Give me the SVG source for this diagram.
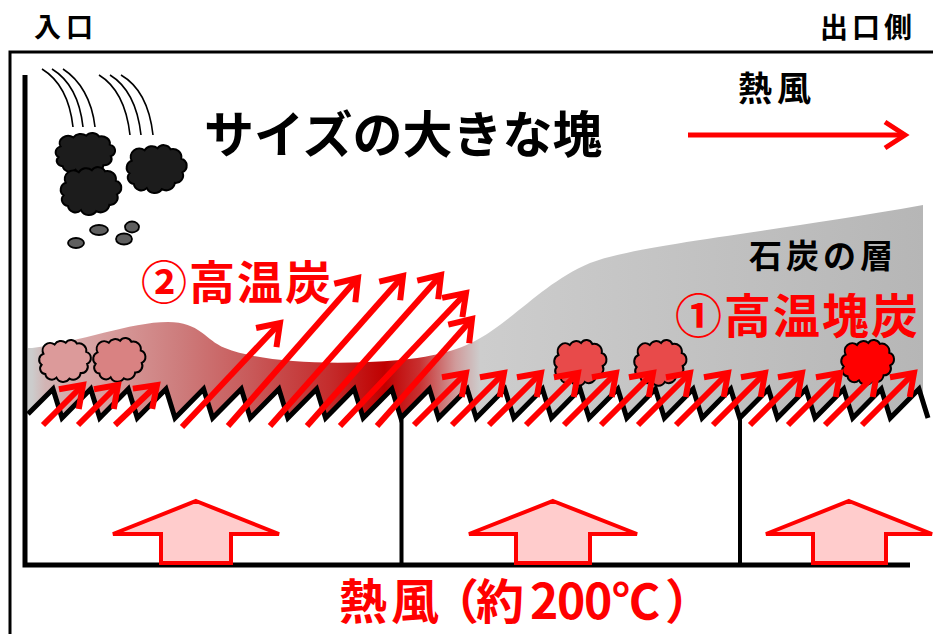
<svg xmlns="http://www.w3.org/2000/svg" width="933" height="634" viewBox="0 0 933 634">
  <defs>
    <style>
      .t{font-family:'Noto Sans CJK JP','Noto Sans CJK SC',sans-serif;font-weight:700}
      .blk{fill:#000}
      .red{fill:#ff0000}
      .air line{stroke:#ff0000;stroke-width:6;fill:none;marker-end:url(#chev)}
      .rise{fill:#ffcccc;stroke:#ff0000;stroke-width:4;stroke-linejoin:miter}
      .fall{fill:none;stroke:#000;stroke-width:1.6}
      .pebble{fill:#5f5f5f;stroke:#000;stroke-width:1.8}
    </style>
    <!-- open chevron head for the air-flow arrows -->
    <marker id="chev" markerUnits="userSpaceOnUse" markerWidth="40" markerHeight="40" viewBox="-30 -20 40 40" refX="0" refY="0" orient="auto" overflow="visible">
      <path d="M-20,-14 L0,0 L-20,14" fill="none" stroke="#ff0000" stroke-width="6" stroke-linejoin="miter"/>
    </marker>
    <!-- lump outline, roughly 60 x 47 -->
    <path id="lump" stroke="#000" stroke-width="2" vector-effect="non-scaling-stroke"
      d="M6,28 A7,7 0 0 1 8,16 A8,8 0 0 1 20,6 A8,8 0 0 1 32,4 A7,7 0 0 1 44,5 A8,8 0 0 1 54,14 A7,7 0 0 1 55,27 A7,7 0 0 1 48,37 A8,8 0 0 1 36,43 A8,8 0 0 1 22,42 A7,7 0 0 1 10,38 A6,6 0 0 1 6,28 Z"/>
    <linearGradient id="bed" gradientUnits="userSpaceOnUse" x1="32" y1="0" x2="925" y2="0">
      <stop offset="0" stop-color="#cccccc"/>
      <stop offset="0.015" stop-color="#d2b4b4"/>
      <stop offset="0.076" stop-color="#d8a0a0"/>
      <stop offset="0.166" stop-color="#cd7c7c"/>
      <stop offset="0.244" stop-color="#c85a5a"/>
      <stop offset="0.334" stop-color="#c42c2c"/>
      <stop offset="0.395" stop-color="#c00000"/>
      <stop offset="0.434" stop-color="#c83030"/>
      <stop offset="0.474" stop-color="#d09a9a"/>
      <stop offset="0.502" stop-color="#cdcdcd"/>
      <stop offset="1" stop-color="#b6b6b6"/>
    </linearGradient>
  </defs>

  <rect width="933" height="634" fill="#fff"/>

  <!-- outer casing -->
  <g id="casing" fill="none" stroke="#000">
    <path d="M10,634 L10,52 L933,52" stroke-width="3"/>
    <path d="M25,75 L25,565 L910,565" stroke-width="5"/>
    <path d="M401.5,416 L401.5,565 M740,416 L740,565" stroke-width="4"/>
  </g>

  <!-- coal bed -->
  <g id="coal-bed">
    <path fill="url(#bed)" d="M28,348 L32,348 C80,342 130,322 168,322 C200,322 205,340 225,348 C260,362 330,366 400,360 C450,355 470,345 490,332 C525,308 550,280 590,263 C640,244 760,234 923,205 L923,401 L919,389 L890.3,418 L881.3,389 L852.7,418 L843.7,389 L815,418 L806,389 L777.4,418 L768.4,389 L739.7,418 L730.7,389 L702.1,418 L693.1,389 L664.4,418 L655.4,389 L626.8,418 L617.8,389 L589.1,418 L580.1,389 L551.5,418 L542.5,389 L513.8,418 L504.8,389 L476.2,418 L467.2,389 L438.5,418 L429.5,389 L400.9,418 L391.9,389 L363.2,418 L354.2,389 L325.6,418 L316.6,389 L287.9,418 L278.9,389 L250.3,418 L241.3,389 L212.6,418 L203.6,389 L175,418 L166,389 L137.3,418 L128.3,389 L99.7,418 L90.7,389 L62,418 L53,389 L28,414 Z"/>
  </g>

  <!-- grate -->
  <g id="grate">
    <path fill="none" stroke="#000" stroke-width="5" stroke-linejoin="miter" d="M28,414 L53,389 L62,418 L90.7,389 L99.7,418 L128.3,389 L137.3,418 L166,389 L175,418 L203.6,389 L212.6,418 L241.3,389 L250.3,418 L278.9,389 L287.9,418 L316.6,389 L325.6,418 L354.2,389 L363.2,418 L391.9,389 L400.9,418 L429.5,389 L438.5,418 L467.2,389 L476.2,418 L504.8,389 L513.8,418 L542.5,389 L551.5,418 L580.1,389 L589.1,418 L617.8,389 L626.8,418 L655.4,389 L664.4,418 L693.1,389 L702.1,418 L730.7,389 L739.7,418 L768.4,389 L777.4,418 L806,389 L815,418 L843.7,389 L852.7,418 L881.3,389 L890.3,418 L919,389 L928,418"/>
  </g>

  <!-- falling lumps -->
  <g id="falling-lumps">
    <path class="fall" d="M42,69 C60,80 70,100 73,127 M52,69 C70,80 80,100 83,127 M63,69 C80,80 92,100 95,127"/>
    <path class="fall" d="M99,75 C117,86 127,108 130,135 M110,75 C128,86 138,108 141,135 M121,75 C140,86 150,108 153,135"/>
    <use href="#lump" fill="#1c1c1c" transform="translate(52,132) scale(1.07,0.9)"/>
    <use href="#lump" fill="#1c1c1c" transform="translate(123,144) scale(1.08,1.05)"/>
    <use href="#lump" fill="#1c1c1c" transform="translate(57,166) scale(1.09,1.05)"/>
    <ellipse class="pebble" cx="76" cy="243" rx="8" ry="5"/>
    <ellipse class="pebble" cx="99" cy="230" rx="9" ry="5"/>
    <ellipse class="pebble" cx="124" cy="239" rx="8" ry="5.5"/>
    <ellipse class="pebble" cx="132" cy="227" rx="7" ry="5.5"/>
  </g>

  <!-- lumps on the bed -->
  <g id="bed-lumps">
    <use href="#lump" fill="#dc9a9a" transform="translate(36,339) scale(0.93,0.92)"/>
    <use href="#lump" fill="#d98282" transform="translate(90,337) scale(0.94,0.96)"/>
    <use href="#lump" fill="#e84a4a" transform="translate(551,339) scale(0.94,1)"/>
    <use href="#lump" fill="#e84a4a" transform="translate(631,339) scale(0.94,1)"/>
    <use href="#lump" fill="#ff0000" transform="translate(838,339) scale(0.95,0.98)"/>
  </g>

  <!-- hot air through the grate -->
  <g id="connectors" class="air">
    <line x1="43" y1="425" x2="83" y2="385"/>
    <line x1="78" y1="425" x2="118" y2="385"/>
    <line x1="115" y1="425" x2="157" y2="385"/>
    <line x1="182" y1="427" x2="280" y2="323"/>
    <line x1="228" y1="426" x2="358" y2="278"/>
    <line x1="270" y1="426" x2="403" y2="276"/>
    <line x1="307" y1="426" x2="441" y2="275"/>
    <line x1="340" y1="426" x2="466" y2="293"/>
    <line x1="377" y1="426" x2="472" y2="319"/>
    <line x1="414" y1="425" x2="466" y2="373"/>
    <line x1="452" y1="425" x2="504" y2="373"/>
    <line x1="489" y1="425" x2="541" y2="373"/>
    <line x1="526" y1="425" x2="578" y2="373"/>
    <line x1="564" y1="425" x2="616" y2="373"/>
    <line x1="601" y1="425" x2="653" y2="373"/>
    <line x1="638" y1="425" x2="690" y2="373"/>
    <line x1="676" y1="425" x2="728" y2="373"/>
    <line x1="713" y1="425" x2="765" y2="373"/>
    <line x1="750" y1="425" x2="802" y2="373"/>
    <line x1="788" y1="425" x2="840" y2="373"/>
    <line x1="825" y1="425" x2="877" y2="373"/>
    <line x1="862" y1="425" x2="914" y2="373"/>
    <path d="M688,135 L905,135" stroke="#ff0000" stroke-width="5" fill="none"/>
    <path d="M885,122 L905,135 L885,148" stroke="#ff0000" stroke-width="5" fill="none"/>
  </g>

  <!-- hot air supply -->
  <g id="supply-1"><polygon class="rise" points="196,501 279,534 231,534 231,563 161,563 161,534 113,534"/></g>
  <g id="supply-2"><polygon class="rise" points="553,501 637,534 590,534 590,563 516,563 516,534 469,534"/></g>
  <g id="supply-3"><polygon class="rise" points="849,501 932,534 886,534 886,563 813,563 813,534 766,534"/></g>

  <!-- labels -->
  <g id="labels">
    <text class="t blk" font-size="27" x="34" y="37" letter-spacing="5">入口</text>
    <text class="t blk" font-size="28" x="820" y="38" letter-spacing="4">出口側</text>
    <text class="t blk" font-size="34" x="738" y="101" letter-spacing="5">熱風</text>
    <text class="t blk" font-size="50" x="204" y="153">サイズの大きな塊</text>
    <text class="t blk" font-size="33" x="749" y="268" letter-spacing="4">石炭の層</text>
    <text class="t red" font-size="46" x="141" y="299" letter-spacing="2">②高温炭</text>
    <text class="t red" font-size="47" x="675" y="333" letter-spacing="2">①高温塊炭</text>
    <text class="t red" font-size="48" x="339 391 431 476 530 557 584 612 665" y="619">熱風（約200℃）</text>
  </g>
</svg>
